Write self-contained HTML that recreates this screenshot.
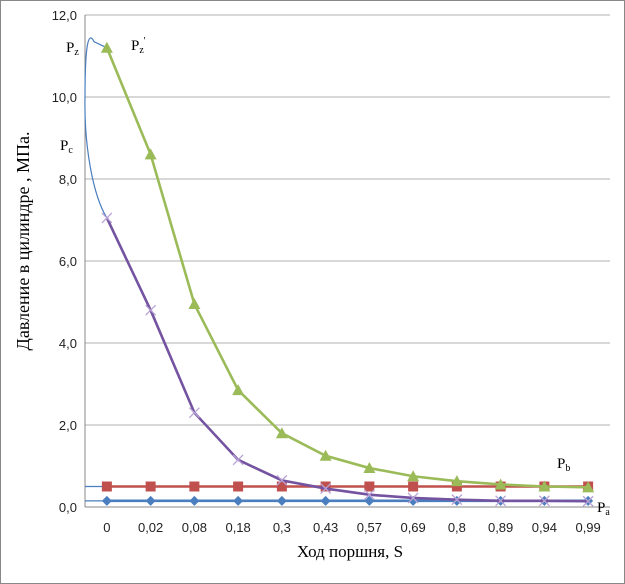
<!DOCTYPE html>
<html><head><meta charset="utf-8"><style>
body{margin:0;background:#fff}
svg{display:block}
text{font-family:"Liberation Sans",sans-serif}
.s{font-family:"Liberation Serif",serif}
</style></head><body>
<svg id="c" width="625" height="584">
<rect x="0.5" y="0.5" width="624" height="583" fill="#fff" stroke="#888"/>
<g id="grid"></g><g id="marks"></g><g id="labels"></g>
<text class="s" x="350" y="557" font-size="17" text-anchor="middle">Ход поршня, S</text>
<text class="s" transform="translate(29,241) rotate(-90)" font-size="18" text-anchor="middle">Давление в цилиндре , МПа.</text>
<text class="s" x="66" y="52" font-size="15">P<tspan font-size="10" dy="3">z</tspan></text>
<text class="s" x="131" y="50" font-size="15">P<tspan font-size="10" dy="3">z</tspan><tspan font-size="10" dy="-9">'</tspan></text>
<text class="s" x="60" y="150" font-size="15">P<tspan font-size="10" dy="3">c</tspan></text>
<text class="s" x="557" y="468" font-size="15">P<tspan font-size="10" dy="3">b</tspan></text>
<text class="s" x="597" y="512" font-size="15">P<tspan font-size="10" dy="3">a</tspan></text>
</svg>
<script>
const categories=["0","0,02","0,08","0,18","0,3","0,43","0,57","0,69","0,8","0,89","0,94","0,99"];
const expansion=[11.2,8.6,4.95,2.85,1.8,1.25,0.95,0.75,0.63,0.55,0.5,0.48];
const compression=[7.05,4.8,2.3,1.15,0.65,0.45,0.3,0.22,0.18,0.15,0.15,0.14];
const pb=[0.5,0.5,0.5,0.5,0.5,0.5,0.5,0.5,0.5,0.5,0.5,0.5];
const pa=[0.15,0.15,0.15,0.15,0.15,0.15,0.15,0.15,0.15,0.15,0.15,0.15];
const yTicks=[0,2,4,6,8,10,12];
const yTickLabels=["0,0","2,0","4,0","6,0","8,0","10,0","12,0"];
const L=85,R=610,T=15,B=507,YMAX=12;
const step=(R-L)/categories.length;
const xs=i=>L+step*(i+0.5);
const ys=v=>B-(v/YMAX)*(B-T);
const NS="http://www.w3.org/2000/svg";
function mk(tag,attrs,parent){const e=document.createElementNS(NS,tag);for(const k in attrs)e.setAttribute(k,attrs[k]);parent.appendChild(e);return e;}
const grid=document.getElementById('grid'),marks=document.getElementById('marks'),labels=document.getElementById('labels');
yTicks.forEach((t,i)=>{
 if(t>0){const g=mk('line',{x1:L,x2:R,y1:ys(t),y2:ys(t),stroke:'#b0b0b0','stroke-width':1},grid);
 
 }
 const tx=mk('text',{x:L-8,y:ys(t)+5,'font-size':13,'text-anchor':'end',fill:'#222'},labels);
 tx.textContent=yTickLabels[i];
 
 
});
categories.forEach((c,i)=>{
 const tx=mk('text',{x:xs(i),y:B+25,'font-size':13,'text-anchor':'middle',fill:'#222'},labels);
 tx.textContent=c;
 
 
});
const ax=mk('line',{x1:L,x2:L,y1:T,y2:B,stroke:'#888'},grid);


const bx=mk('line',{x1:L,x2:R,y1:B,y2:B,stroke:'#888'},grid);


const x0=xs(0);
const c1=mk('path',{d:`M${x0},${ys(compression[0])} C${L+8},${ys(7.6)} ${L-1},${ys(8.8)} ${L},${ys(10)} C${L},${ys(11.4)} ${L+4},${ys(11.6)} ${L+9},${ys(11.35)} L${x0},${ys(expansion[0])}`,fill:'none',stroke:'#4a7ebf','stroke-width':1.2},marks);


[pb[0],pa[0]].forEach(v=>{const l=mk('line',{x1:L,x2:x0,y1:ys(v),y2:ys(v),stroke:'#4a7ebf','stroke-width':1.2},marks);

});
function series(arr,color,name,marker){
 const p=mk('polyline',{points:arr.map((v,i)=>xs(i)+','+ys(v)).join(' '),fill:'none',stroke:color,'stroke-width':2.6},marks);
 
 
 arr.forEach((v,i)=>{const x=xs(i),y=ys(v);let m;
  if(marker==='sq')m=mk('rect',{x:x-5,y:y-5,width:10,height:10,fill:color},marks);
  else if(marker==='tri')m=mk('polygon',{points:`${x},${y-6} ${x+6},${y+5} ${x-6},${y+5}`,fill:color},marks);
  else if(marker==='dia')m=mk('polygon',{points:`${x},${y-5} ${x+5},${y} ${x},${y+5} ${x-5},${y}`,fill:color},marks);
  else m=mk('path',{d:`M${x-5},${y-5}L${x+5},${y+5}M${x-5},${y+5}L${x+5},${y-5}`,stroke:'#b9a3d6','stroke-width':1.3},marks);
  
  });
}
series(pb,'#c0504d','pb','sq');
series(pa,'#4a7ebf','pa','dia');
series(compression,'#7453a0','compression','x');
series(expansion,'#9bbb59','expansion','tri');
</script>
</body></html>
